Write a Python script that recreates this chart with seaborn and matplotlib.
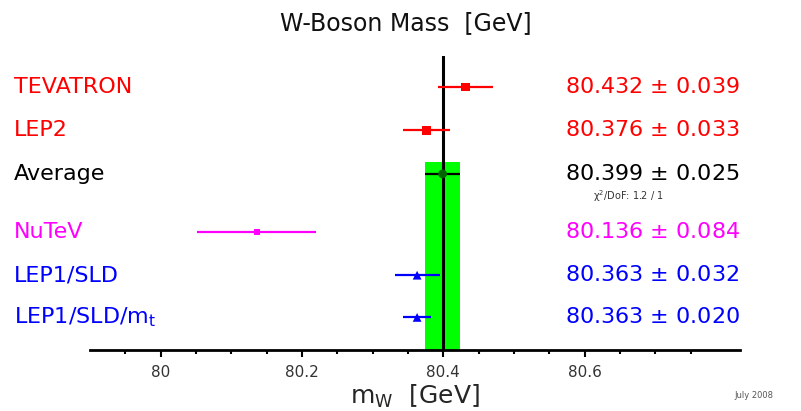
import pandas as pd
import seaborn as sns
import matplotlib.pyplot as plt
import matplotlib.transforms as mtransforms

# Dados
labels = ['TEVATRON', 'LEP2', 'Average', 'NuTeV', 'LEP1/SLD', 'LEP1/SLD/m$_\\mathrm{t}$']
mass = [80.432, 80.376, 80.399, 80.136, 80.363, 80.363]
err = [0.039, 0.033, 0.025, 0.084, 0.032, 0.020]
value_text = ['80.432 $\\pm$ 0.039', '80.376 $\\pm$ 0.033', '80.399 $\\pm$ 0.025',
              '80.136 $\\pm$ 0.084', '80.363 $\\pm$ 0.032', '80.363 $\\pm$ 0.020']
row = [0, 1, 2, 3.33, 4.33, 5.3]
colors = ['#ff0000', '#ff0000', '#000000', '#ff00ff', '#0000ff', '#0000ff']
marker_colors = ['#ff0000', '#ff0000', '#006400', '#ff00ff', '#0000ff', '#0000ff']
markers = ['s', 's', 'o', 's', '^', '^']
xticks = [80, 80.2, 80.4, 80.6]
xtick_labels = ['80', '80.2', '80.4', '80.6']

df = pd.DataFrame({'label': labels, 'mass': mass, 'err': err, 'row': row})

sns.set_style('white')
plt.rcParams['font.family'] = ['DejaVu Sans']
plt.rcParams['mathtext.default'] = 'regular'

fig = plt.figure(figsize=(8.01, 4.11), dpi=100)
ax = fig.add_axes([0.1124, 0.1484, 0.9238 - 0.1124, 0.8637 - 0.1484])

# banda da média
avg, avg_err = mass[2], err[2]
ax.fill_between([avg - avg_err, avg + avg_err], 1.72, 6.05, color='#00ff00', lw=0, zorder=1)
ax.axvline(avg, color='black', lw=2.2, zorder=2)

# barras de erro e marcadores
for i in range(len(df)):
    ax.errorbar(mass[i], row[i], xerr=err[i], fmt='none', ecolor=colors[i], elinewidth=1.6, capsize=0, zorder=3)
for i in range(len(df)):
    sns.scatterplot(x=[mass[i]], y=[row[i]], marker=markers[i], color=marker_colors[i],
                    s=40 if i != 3 else 18, edgecolor='none', ax=ax, zorder=4, legend=False)

ax.set_xlim(79.9, 80.82)
ax.set_ylim(6.05, -0.71)

for s in ['top', 'right', 'left']:
    ax.spines[s].set_visible(False)
ax.spines['bottom'].set_linewidth(2)
ax.spines['bottom'].set_color('black')
ax.set_yticks([])
ax.set_xticks(xticks)
ax.set_xticklabels(xtick_labels, fontsize=11, color='#333333')
ax.set_xticks([79.95, 80.05, 80.1, 80.15, 80.25, 80.3, 80.35, 80.45, 80.5, 80.55, 80.65, 80.7, 80.75], minor=True)
ax.tick_params(axis='x', which='major', direction='out', length=5, width=1.5, color='black', bottom=True, pad=6)
ax.tick_params(axis='x', which='minor', direction='out', length=3, width=1.5, color='black', bottom=True)
ax.set_xlabel('m$_W$  [GeV]', fontsize=18, labelpad=2)
ax.set_ylabel('')

# textos
trans = mtransforms.blended_transform_factory(fig.transFigure, ax.transData)
for i in range(len(df)):
    ax.text(14 / 801, row[i], labels[i], transform=trans, color=colors[i], fontsize=16,
            va='center', ha='left', clip_on=False)
    ax.text(565 / 801, row[i], value_text[i], transform=trans, color=colors[i], fontsize=16,
            va='center', ha='left', clip_on=False)

ax.text(593 / 801, 2.5, '$\\chi^2$/DoF: 1.2 / 1', transform=trans, fontsize=7,
        va='center', ha='left', color='#333333', clip_on=False)
fig.text(406 / 801, 1 - 23 / 411, 'W-Boson Mass  [GeV]', fontsize=17, ha='center', va='center', color='#111111')
fig.text(754 / 801, 1 - 395 / 411, 'July 2008', fontsize=6, ha='center', va='center', color='#555555')

plt.savefig('out.png', dpi=100)
